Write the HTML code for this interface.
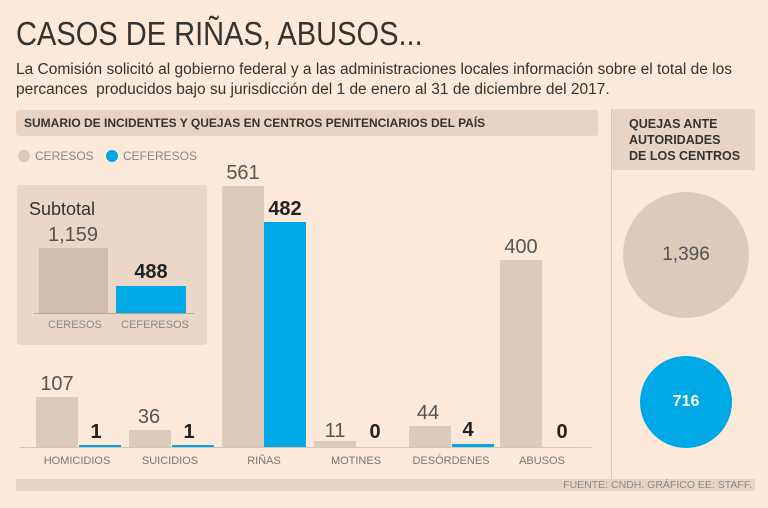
<!DOCTYPE html>
<html><head><meta charset="utf-8"><style>
*{margin:0;padding:0;box-sizing:border-box}
body{width:768px;height:508px;background:#fce9da;font-family:"Liberation Sans",sans-serif;position:relative;overflow:hidden;color:#333}
.a{position:absolute}
.g{background:#dccbbb}
.b{background:#00a8e6}
.n{position:absolute;font-size:20px;color:#555;text-align:center;width:60px;font-weight:300}
.nb{position:absolute;font-size:20px;color:#222;font-weight:bold;text-align:center;width:60px}
.lab{position:absolute;font-size:11px;color:#777;text-align:center;width:100px;top:455px}
</style></head><body>
<div class="a" style="left:16px;top:15px;font-size:33px;color:#333;transform:scaleX(0.88);transform-origin:0 0;white-space:nowrap">CASOS DE RIÑAS, ABUSOS...</div>
<div class="a" style="left:16px;top:60px;font-size:15.5px;line-height:20px;color:#333;width:750px">La Comisión solicitó al gobierno federal y a las administraciones locales información sobre el total de los<br>percances&nbsp; producidos bajo su jurisdicción del 1 de enero al 31 de diciembre del 2017.</div>
<div class="a" style="left:16px;top:110px;width:582px;height:26px;background:#e7d4c4;border-radius:3px;font-size:12px;font-weight:bold;padding:6px 8px;color:#333">SUMARIO DE INCIDENTES Y QUEJAS EN CENTROS PENITENCIARIOS DEL PAÍS</div>
<div class="a" style="left:611px;top:109px;width:144px;height:61px;background:#e7d4c4;font-size:12.5px;font-weight:bold;padding:7px 0 0 18px;line-height:16px;color:#333;white-space:nowrap">QUEJAS ANTE<br>AUTORIDADES<br>DE LOS CENTROS</div>
<div class="a" style="left:611px;top:109px;width:1px;height:372px;background:#d9c8b8"></div>
<div class="a" style="left:18px;top:150px;width:12px;height:12px;border-radius:50%;background:#dccbbb"></div>
<div class="a" style="left:35px;top:149px;font-size:12px;color:#888">CERESOS</div>
<div class="a" style="left:106px;top:150px;width:12px;height:12px;border-radius:50%;background:#00a8e6"></div>
<div class="a" style="left:123px;top:149px;font-size:12px;color:#888">CEFERESOS</div>
<div class="a" style="left:17px;top:185px;width:190px;height:160px;background:#ead7c7;border-radius:3px"></div>
<div class="a" style="left:29px;top:199px;font-size:18px;color:#333">Subtotal</div>
<div class="a g" style="left:39px;top:248px;width:69px;height:66px;background:#cfbeae"></div>
<div class="a b" style="left:116px;top:286px;width:70px;height:28px"></div>
<div class="a" style="left:34px;top:313px;width:160px;height:1px;background:#b9a898"></div>
<div class="n" style="left:43px;top:224px;width:60px">1,159</div>
<div class="nb" style="left:121px;top:261px">488</div>
<div class="a" style="left:48px;top:319px;font-size:11px;color:#888">CERESOS</div>
<div class="a" style="left:121px;top:319px;font-size:11px;color:#888">CEFERESOS</div>
<div class="a" style="left:20px;top:447px;width:572px;height:1px;background:#d6c4b4"></div>
<div class="a g" style="left:36px;top:397px;width:42px;height:50px"></div>
<div class="a b" style="left:79px;top:445px;width:42px;height:2px"></div>
<div class="n" style="left:27px;top:373px">107</div><div class="nb" style="left:66px;top:421px">1</div>
<div class="a g" style="left:129px;top:430px;width:42px;height:17px"></div>
<div class="a b" style="left:172px;top:445px;width:42px;height:2px"></div>
<div class="n" style="left:119px;top:406px">36</div><div class="nb" style="left:159px;top:421px">1</div>
<div class="a g" style="left:222px;top:186px;width:42px;height:261px"></div>
<div class="a b" style="left:264px;top:222px;width:42px;height:225px"></div>
<div class="n" style="left:213px;top:162px">561</div><div class="nb" style="left:255px;top:198px">482</div>
<div class="a g" style="left:314px;top:441px;width:42px;height:6px"></div>
<div class="n" style="left:305px;top:420px">11</div><div class="nb" style="left:345px;top:421px">0</div>
<div class="a g" style="left:409px;top:426px;width:42px;height:21px"></div>
<div class="a b" style="left:452px;top:444px;width:42px;height:3px"></div>
<div class="n" style="left:398px;top:402px">44</div><div class="nb" style="left:438px;top:419px">4</div>
<div class="a g" style="left:500px;top:260px;width:42px;height:187px"></div>
<div class="n" style="left:491px;top:236px">400</div><div class="nb" style="left:532px;top:421px">0</div>
<div class="lab" style="left:27px">HOMICIDIOS</div>
<div class="lab" style="left:120px">SUICIDIOS</div>
<div class="lab" style="left:214px">RIÑAS</div>
<div class="lab" style="left:306px">MOTINES</div>
<div class="lab" style="left:401px">DESÓRDENES</div>
<div class="lab" style="left:492px">ABUSOS</div>
<div class="a" style="left:623px;top:192px;width:126px;height:126px;border-radius:50%;background:#dccbbb;text-align:center;line-height:126px;font-size:19px;color:#555">1,396</div>
<div class="a" style="left:640px;top:356px;width:92px;height:92px;border-radius:50%;background:#00a8e6;text-align:center;line-height:92px;font-size:16px;font-weight:bold;color:#fff">716</div>
<div class="a" style="left:16px;top:479px;width:739px;height:12px;background:#e7d4c4"></div>
<div class="a" style="left:400px;top:479px;width:352px;text-align:right;font-size:10.5px;color:#888">FUENTE: CNDH. GRÁFICO EE: STAFF.</div>
</body></html>
